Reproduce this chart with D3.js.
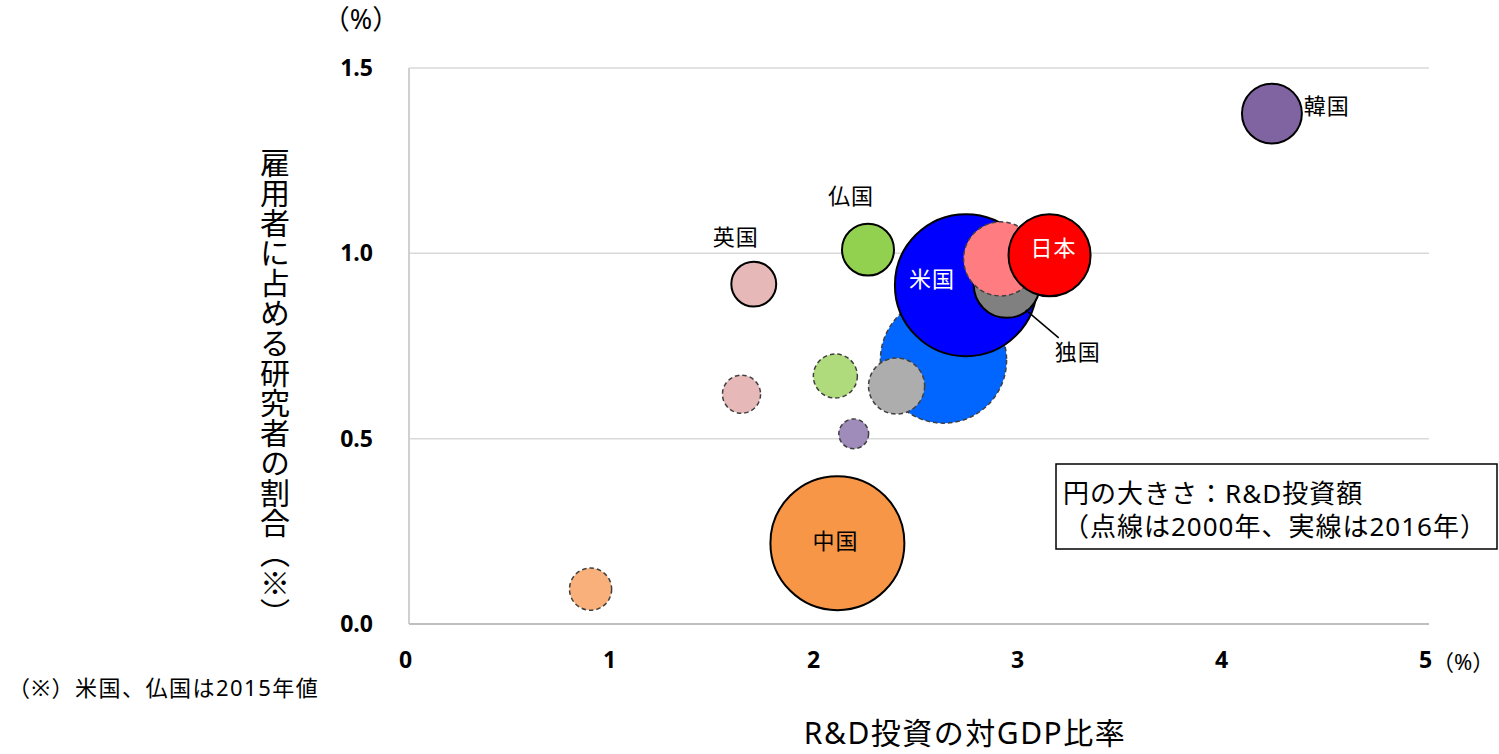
<!DOCTYPE html>
<html>
<head>
<meta charset="utf-8">
<script src="https://cdn.jsdelivr.net/npm/d3@7"></script>
<style>
  body { margin: 0; background: #fff; }
  svg text { font-family: "Noto Sans", "Noto Sans CJK JP", sans-serif; fill: #000; }
</style>
</head>
<body>
<svg id="chart" width="1499" height="754"></svg>
<script>
// 国ごとのデータ（2000年は点線、2016年は実線。米国・仏国は2015年値）
const countries = ['米国', '日本', '独国', '仏国', '英国', '中国', '韓国'];
const x2000 = [2.62, 2.90, 2.39, 2.09, 1.63, 0.89, 2.18];
const y2000 = [0.712, 0.985, 0.642, 0.669, 0.62, 0.094, 0.513];
const rd2000 = [395, 136, 78, 48, 36, 44, 22];
const x2016 = [2.73, 3.14, 2.93, 2.25, 1.69, 2.10, 4.23];
const y2016 = [0.914, 0.995, 0.915, 1.01, 0.917, 0.218, 1.377];
const rd2016 = [500, 167, 108, 67, 50, 445, 89];
const fill2000 = ['#0066ff', '#ff7c80', '#adadad', '#afdb7c', '#e6b9b8', '#fab07a', '#a08cba'];
const fill2016 = ['#0000ff', '#ff0000', '#808080', '#92d050', '#e6b9b8', '#f79646', '#8064a2'];
const xTicks = [0, 1, 2, 3, 4, 5];
const yTicks = [0, 0.5, 1.0, 1.5];

// draw order so that overlaps stack like the original
const drawOrder = [
  [0, 2000], [2, 2000], [3, 2000], [4, 2000], [5, 2000], [6, 2000],
  [0, 2016], [2, 2016], [1, 2000], [1, 2016], [3, 2016], [4, 2016], [5, 2016], [6, 2016]
];

const svg = d3.select('#chart');
const DIM = { left: 409, right: 1429, top: 68, bottom: 624 };

const xScale = d3.scaleLinear().domain([0, 5]).range([DIM.left, DIM.right]);
const yScale = d3.scaleLinear().domain([0, 1.5]).range([DIM.bottom, DIM.top]);
const rScale = d3.scaleSqrt().domain([0, 500]).range([0, 71]);

// grid lines
svg.append('g')
  .selectAll('line')
  .data(yTicks.filter(d => d > 0))
  .join('line')
  .attr('x1', DIM.left).attr('x2', DIM.right)
  .attr('y1', d => yScale(d)).attr('y2', d => yScale(d))
  .attr('stroke', '#d9d9d9').attr('stroke-width', 1.5);

// axes lines
svg.append('line')
  .attr('x1', DIM.left).attr('x2', DIM.left)
  .attr('y1', DIM.top).attr('y2', DIM.bottom)
  .attr('stroke', '#d0d0d0').attr('stroke-width', 2);
svg.append('line')
  .attr('x1', DIM.left).attr('x2', DIM.right)
  .attr('y1', DIM.bottom).attr('y2', DIM.bottom)
  .attr('stroke', '#bfbfbf').attr('stroke-width', 2);

// tick labels through d3 axes
const xAxis = svg.append('g')
  .attr('transform', `translate(-4, ${DIM.bottom})`)
  .call(d3.axisBottom(xScale).tickValues(xTicks).tickFormat(d3.format('d')).tickSize(0).tickPadding(28));
const yAxis = svg.append('g')
  .attr('transform', `translate(${DIM.left}, 0)`)
  .call(d3.axisLeft(yScale).tickValues(yTicks).tickFormat(d3.format('.1f')).tickSize(0).tickPadding(36));
[xAxis, yAxis].forEach(a => {
  a.select('.domain').remove();
  a.selectAll('text')
    .style('font-family', '"Noto Sans", "DejaVu Sans", sans-serif')
    .style('font-weight', 'bold')
    .style('font-size', '23px')
    .attr('fill', '#000');
});

// bubbles
const bubbles = drawOrder.map(([i, yr]) => ({
  i: i,
  yr: yr,
  x: yr === 2000 ? x2000[i] : x2016[i],
  y: yr === 2000 ? y2000[i] : y2016[i],
  rd: yr === 2000 ? rd2000[i] : rd2016[i],
  fill: yr === 2000 ? fill2000[i] : fill2016[i]
}));

svg.append('g')
  .selectAll('circle')
  .data(bubbles)
  .join('circle')
  .attr('cx', d => xScale(d.x))
  .attr('cy', d => yScale(d.y))
  .attr('r', d => rScale(d.rd))
  .attr('fill', d => d.fill)
  .attr('stroke', d => d.yr === 2000 ? '#404040' : '#000')
  .attr('stroke-width', d => d.yr === 2000 ? 1.5 : 2)
  .attr('stroke-dasharray', d => d.yr === 2000 ? '4.5,3' : null);

// country labels (positioned relative to the 2016 bubble)
function cx(i) { return xScale(x2016[i]); }
function cy(i) { return yScale(y2016[i]); }
function rr(i) { return rScale(rd2016[i]); }

const labels = [
  { i: 0, x: cx(0) - 34, y: cy(0) - 6, color: '#fff', anchor: 'middle' },
  { i: 1, x: cx(1) + 4, y: cy(1) - 7, color: '#fff', anchor: 'middle' },
  { i: 2, x: cx(2) + 71, y: cy(2) + 67, color: '#000', anchor: 'middle' },
  { i: 3, x: cx(3) - 17, y: cy(3) - 53, color: '#000', anchor: 'middle' },
  { i: 4, x: cx(4) - 18, y: cy(4) - 47, color: '#000', anchor: 'middle' },
  { i: 5, x: cx(5) - 2, y: cy(5) - 2, color: '#000', anchor: 'middle' },
  { i: 6, x: cx(6) + rr(6) + 2, y: cy(6) - 7, color: '#000', anchor: 'start' }
];
svg.append('g')
  .selectAll('text')
  .data(labels)
  .join('text')
  .attr('x', d => d.x)
  .attr('y', d => d.y)
  .attr('dy', '0.35em')
  .attr('text-anchor', d => d.anchor)
  .style('font-size', '22px')
  .style('letter-spacing', '1px')
  .style('fill', d => d.color)
  .text(d => countries[d.i]);

// leader line for 独国
svg.append('line')
  .attr('x1', cx(2) + 19).attr('y1', cy(2) + 25)
  .attr('x2', cx(2) + 52).attr('y2', cy(2) + 53)
  .attr('stroke', '#000').attr('stroke-width', 1.5);

// axis titles
svg.append('text')
  .attr('x', 361).attr('y', 20)
  .attr('dy', '0.35em')
  .attr('text-anchor', 'middle')
  .style('font-size', '27px')
  .text('（%）');
svg.append('text')
  .attr('x', 1432).attr('y', 662)
  .attr('dy', '0.35em')
  .attr('text-anchor', 'start')
  .style('font-size', '22px')
  .text('（%）');
svg.append('text')
  .attr('x', 965).attr('y', 733)
  .attr('dy', '0.35em')
  .attr('text-anchor', 'middle')
  .style('font-size', '30px')
  .style('letter-spacing', '1.5px')
  .text('R&D投資の対GDP比率');
svg.append('text')
  .attr('x', 275).attr('y', 388)
  .attr('text-anchor', 'middle')
  .style('font-family', '"Noto Sans CJK JP", sans-serif')
  .style('writing-mode', 'vertical-rl')
  .style('font-size', '30px')
  .text('雇用者に占める研究者の割合（※）');

// footnote
svg.append('text')
  .attr('x', 8).attr('y', 688)
  .attr('dy', '0.35em')
  .style('font-size', '22px')
  .style('letter-spacing', '1.5px')
  .text('（※）米国、仏国は2015年値');

// legend box
const legend = svg.append('g');
legend.append('rect')
  .attr('x', 1056).attr('y', 464)
  .attr('width', 441).attr('height', 85)
  .attr('fill', '#fff')
  .attr('stroke', '#000').attr('stroke-width', 1.5);
legend.append('text')
  .attr('x', 1063).attr('y', 494)
  .attr('dy', '0.35em')
  .style('font-size', '26px')
  .style('letter-spacing', '1px')
  .text('円の大きさ：R&D投資額');
legend.append('text')
  .attr('x', 1063).attr('y', 527)
  .attr('dy', '0.35em')
  .style('font-size', '26px')
  .style('letter-spacing', '1px')
  .text('（点線は2000年、実線は2016年）');
</script>
</body>
</html>
